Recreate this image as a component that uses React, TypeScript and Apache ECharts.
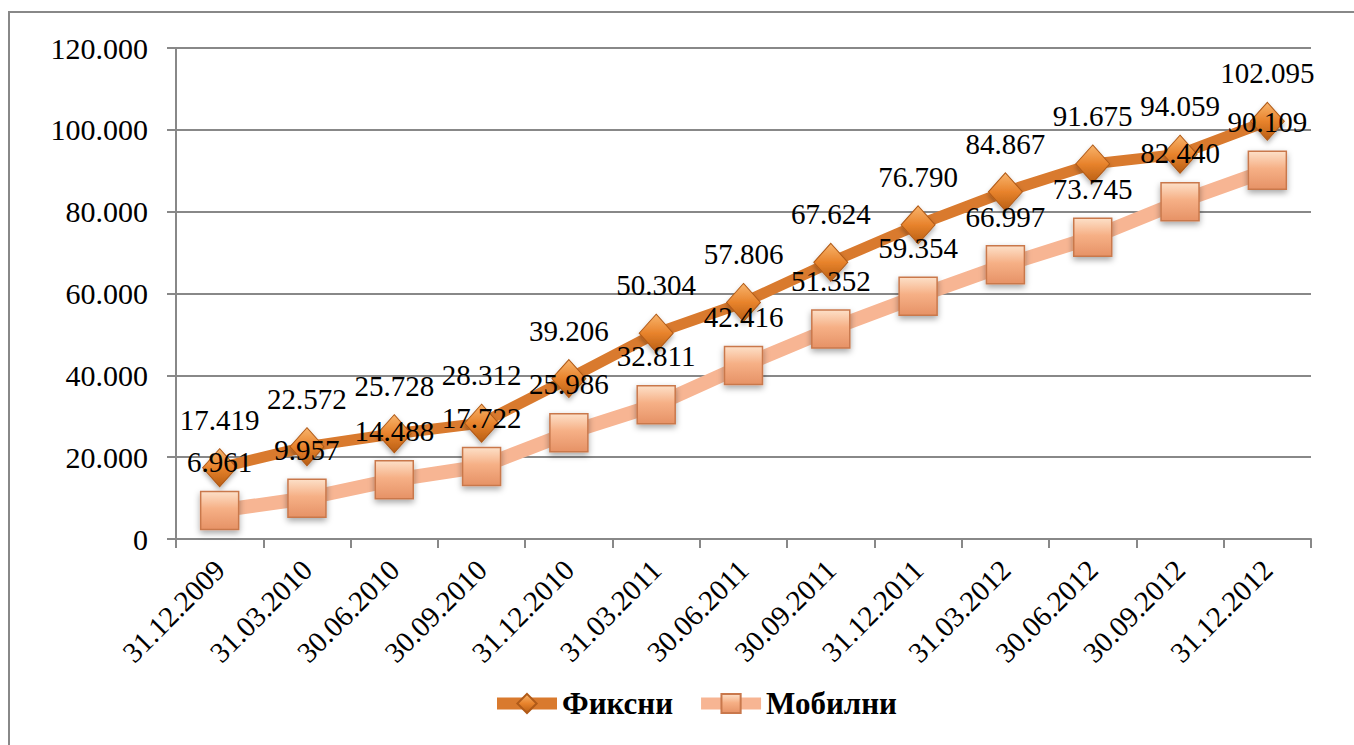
import React, { useEffect, useRef } from "react";
import * as echarts from "echarts";

const categories = [
  "31.12.2009", "31.03.2010", "30.06.2010", "30.09.2010", "31.12.2010", "31.03.2011",
  "30.06.2011", "30.09.2011", "31.12.2011", "31.03.2012", "30.06.2012", "30.09.2012", "31.12.2012",
];
const fixedValues = [17419, 22572, 25728, 28312, 39206, 50304, 57806, 67624, 76790, 84867, 91675, 94059, 102095];
const mobileValues = [6961, 9957, 14488, 17722, 25986, 32811, 42416, 51352, 59354, 66997, 73745, 82440, 90109];
const seriesNames = ["Фиксни", "Мобилни"];

const FONT = "'Liberation Serif', 'DejaVu Serif', serif";

function fmt(v: number): string {
  if (v === 0) return "0";
  const th = Math.floor(v / 1000);
  const rest = String(Math.round(v % 1000)).padStart(3, "0");
  return th + "." + rest;
}

export default function App() {
  const ref = useRef<HTMLDivElement>(null);
  useEffect(() => {
    if (!ref.current) return;
    const chart = echarts.init(ref.current, null, { renderer: "svg" });
    const diamondColor = new echarts.graphic.LinearGradient(0, 0, 0, 1, [
      { offset: 0, color: "#F8B46C" },
      { offset: 0.5, color: "#E8832C" },
      { offset: 1, color: "#B85E14" },
    ]);
    const squareColor = new echarts.graphic.LinearGradient(0, 0, 0, 1, [
      { offset: 0, color: "#FDE0C8" },
      { offset: 0.45, color: "#F6B086" },
      { offset: 1, color: "#E69266" },
    ]);
    chart.setOption({
      animation: false,
      backgroundColor: "#ffffff",
      graphic: [
        {
          type: "rect",
          shape: { x: 9, y: 12, width: 1500, height: 900 },
          style: { fill: "none", stroke: "#888888", lineWidth: 2 },
          silent: true,
        },
      ],
      grid: { left: 176, right: 43, top: 48, bottom: 206 },
      legend: {
        bottom: 21,
        left: 486,
        itemWidth: 60,
        itemHeight: 24,
        itemGap: 22,
        lineStyle: { width: 12 },
        textStyle: { fontFamily: FONT, fontSize: 31, fontWeight: "bold", color: "#000" },
        data: seriesNames,
      },
      xAxis: {
        type: "category",
        data: categories,
        boundaryGap: true,
        axisLine: { lineStyle: { color: "#888888", width: 2 } },
        axisTick: { show: true, length: 9, lineStyle: { color: "#888888", width: 2 } },
        axisLabel: {
          rotate: 45,
          margin: 26,
          fontFamily: FONT,
          fontSize: 29,
          color: "#000",
          interval: 0,
        },
      },
      yAxis: {
        type: "value",
        min: 0,
        max: 120000,
        interval: 20000,
        axisLine: { show: true, lineStyle: { color: "#888888", width: 2 } },
        axisTick: { show: true, length: 9, lineStyle: { color: "#888888", width: 2 } },
        splitLine: { lineStyle: { color: "#888888", width: 2 } },
        axisLabel: {
          margin: 28,
          fontFamily: FONT,
          fontSize: 30,
          color: "#000",
          formatter: (v: number) => fmt(v),
        },
      },
      series: [
        {
          name: seriesNames[0],
          type: "line",
          data: fixedValues,
          z: 2,
          symbol: "diamond",
          symbolSize: [34, 38],
          lineStyle: { color: "#D97A2E", width: 11 },
          itemStyle: {
            color: diamondColor,
            borderColor: "#B05A18",
            borderWidth: 1,
            shadowColor: "rgba(0,0,0,0.3)",
            shadowBlur: 5,
            shadowOffsetY: 3,
          },
          label: {
            show: true,
            position: "top",
            distance: 14,
            fontFamily: FONT,
            fontSize: 29,
            color: "#000",
            formatter: (p: any) => fmt(p.value),
          },
        },
        {
          name: seriesNames[1],
          type: "line",
          data: mobileValues,
          z: 3,
          symbol: "rect",
          symbolSize: 38,
          lineStyle: { color: "#F7B593", width: 14 },
          itemStyle: {
            color: squareColor,
            borderColor: "#C9784C",
            borderWidth: 1.5,
            shadowColor: "rgba(0,0,0,0.35)",
            shadowBlur: 6,
            shadowOffsetY: 3,
          },
          label: {
            show: true,
            position: "top",
            distance: 14,
            fontFamily: FONT,
            fontSize: 29,
            color: "#000",
            formatter: (p: any) => fmt(p.value),
          },
        },
      ],
    });
    return () => chart.dispose();
  }, []);
  return (
    <div
      ref={ref}
      style={{ position: "absolute", left: 0, top: 0, width: 1354, height: 745 }}
    />
  );
}
